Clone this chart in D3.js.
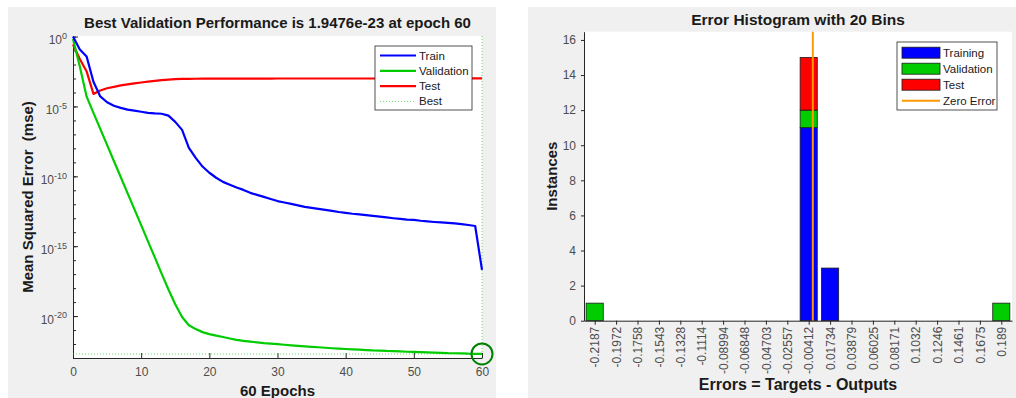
<!DOCTYPE html>
<html>
<head>
<meta charset="utf-8">
<script src="https://cdn.jsdelivr.net/npm/d3@7"></script>
<style>
  body { margin: 0; background: #fff; }
  text { font-family: "Liberation Sans", Arial, Helvetica, sans-serif; }
</style>
</head>
<body>
<div class="charts"></div>
<script>
// data

// left: performance per epoch (mse)
var epochs = d3.range(0, 61);
var trainMse = [1.0, 1.2e-1, 3.7e-2, 5.9e-4, 5.2e-5, 2.0e-5, 1.12e-5, 7.9e-6, 5.9e-6, 5.0e-6,
  4.2e-6, 3.5e-6, 3.2e-6, 3.0e-6, 2.2e-6, 7.9e-7, 2.1e-7, 1.1e-8, 2.1e-9, 5.0e-10,
  1.8e-10, 7.9e-11, 4.0e-11, 2.5e-11, 1.6e-11, 1.07e-11, 6.6e-12, 4.7e-12, 3.4e-12, 2.4e-12,
  1.7e-12, 1.35e-12, 1.07e-12, 8.3e-13, 6.5e-13, 5.5e-13, 4.7e-13, 4.0e-13, 3.4e-13, 2.8e-13,
  2.4e-13, 2.1e-13, 1.9e-13, 1.66e-13, 1.48e-13, 1.29e-13, 1.15e-13, 1.0e-13, 8.9e-14, 8.1e-14,
  7.6e-14, 6.6e-14, 5.9e-14, 5.4e-14, 5.0e-14, 4.6e-14, 4.3e-14, 3.8e-14, 3.3e-14, 2.8e-14,
  2.0e-17];
var validMse = [0.68, 7.1e-3, 5.0e-5, 3.5e-6, 2.5e-7, 1.8e-8, 1.26e-9, 8.9e-11, 6.3e-12, 4.5e-13,
  3.2e-14, 2.2e-15, 1.6e-16, 1.1e-17, 7.9e-19, 7.1e-20, 8.5e-21, 2.2e-21, 1.17e-21, 7.1e-22,
  5.1e-22, 4.0e-22, 3.2e-22, 2.5e-22, 2.0e-22, 1.66e-22, 1.48e-22, 1.32e-22, 1.17e-22, 1.07e-22,
  9.8e-23, 8.9e-23, 8.1e-23, 7.4e-23, 6.8e-23, 6.3e-23, 5.9e-23, 5.4e-23, 5.0e-23, 4.7e-23,
  4.4e-23, 4.2e-23, 4.0e-23, 3.7e-23, 3.5e-23, 3.4e-23, 3.2e-23, 3.1e-23, 2.95e-23, 2.8e-23,
  2.7e-23, 2.6e-23, 2.5e-23, 2.4e-23, 2.35e-23, 2.24e-23, 2.19e-23, 2.14e-23, 2.04e-23, 2.0e-23,
  1.9476e-23];
var testMse = [0.27, 2.5e-2, 3.2e-3, 7.9e-5, 1.4e-4, 2.0e-4, 2.5e-4, 3.2e-4, 3.8e-4, 4.5e-4,
  5.2e-4, 6.0e-4, 6.8e-4, 7.6e-4, 8.3e-4, 8.9e-4, 9.3e-4, 9.5e-4, 9.6e-4, 9.7e-4,
  9.75e-4, 9.8e-4, 9.8e-4, 9.85e-4, 9.85e-4, 9.9e-4, 9.9e-4, 9.9e-4, 9.95e-4, 9.95e-4,
  1.0e-3, 1.0e-3, 1.0e-3, 1.0e-3, 1.0e-3, 1.0e-3, 1.0e-3, 1.0e-3, 1.0e-3, 1.0e-3,
  1.0e-3, 1.0e-3, 1.0e-3, 1.0e-3, 1.0e-3, 1.0e-3, 1.01e-3, 1.01e-3, 1.01e-3, 1.01e-3,
  1.01e-3, 1.01e-3, 1.01e-3, 1.01e-3, 1.01e-3, 1.02e-3, 1.02e-3, 1.02e-3, 1.02e-3, 1.02e-3,
  1.02e-3];
var bestEpoch = 60;
var bestPerf = 1.9476e-23;
var perfTicks = [1e0, 1e-5, 1e-10, 1e-15, 1e-20];
var perfExp = ['0', '-5', '-10', '-15', '-20'];
var epochTicks = [0, 10, 20, 30, 40, 50, 60];

// right: error histogram, 20 bins
var binLabels = ['-0.2187', '-0.1972', '-0.1758', '-0.1543', '-0.1328', '-0.1114', '-0.08994',
  '-0.06848', '-0.04703', '-0.02557', '-0.00412', '0.01734', '0.03879', '0.06025', '0.08171',
  '0.1032', '0.1246', '0.1461', '0.1675', '0.189'];
var histTrain = [0, 0, 0, 0, 0, 0, 0, 0, 0, 0, 11, 3, 0, 0, 0, 0, 0, 0, 0, 0];
var histValid = [1, 0, 0, 0, 0, 0, 0, 0, 0, 0, 1, 0, 0, 0, 0, 0, 0, 0, 0, 1];
var histTest  = [0, 0, 0, 0, 0, 0, 0, 0, 0, 0, 3, 0, 0, 0, 0, 0, 0, 0, 0, 0];
var countTicks = [0, 2, 4, 6, 8, 10, 12, 14, 16];
var zeroError = 0;

var cBlue = '#0000ff', cGreen = '#00cc00', cRed = '#ff0000', cOrange = '#ff9900';
var axisColor = '#262626';
var labelColor = '#1a1a1a';

var svg = d3.select('.charts').append('svg')
  .attr('width', 1016)
  .attr('height', 398);

// panel backgrounds
svg.append('rect').attr('x', 8).attr('y', 7).attr('width', 488).attr('height', 391).attr('fill', '#f0f0f0');
svg.append('rect').attr('x', 528).attr('y', 7).attr('width', 488).attr('height', 391).attr('fill', '#f0f0f0');

function styleAxis(g) {
  g.select('.domain').attr('stroke', axisColor);
  g.selectAll('.tick line').attr('stroke', axisColor);
  g.selectAll('.tick text').attr('fill', '#4d4d4d').attr('font-size', 12)
    .attr('font-family', '"Liberation Sans", Arial, sans-serif');
}

// ---------- performance plot ----------
var L = { left: 73, right: 482, top: 36, bottom: 358 };
var xP = d3.scaleLinear().domain([0, 60]).range([L.left, L.right]);
var yP = d3.scaleLog().domain([1e-23, 1.1]).range([L.bottom, L.top]);

var perf = svg.append('g');
perf.append('rect').attr('x', L.left).attr('y', L.top)
  .attr('width', L.right - L.left).attr('height', L.bottom - L.top).attr('fill', '#fff');

// minor decade ticks
var decades = d3.range(0, 24).map(function(d) { return Math.pow(10, -d); });
perf.append('g').attr('transform', 'translate(' + L.left + ',0)')
  .call(d3.axisLeft(yP).tickValues(decades).tickSizeInner(-3).tickSizeOuter(0).tickFormat(''))
  .call(function(g) { g.select('.domain').remove(); g.selectAll('line').attr('stroke', axisColor); });

var yAxisP = perf.append('g').attr('transform', 'translate(' + L.left + ',0)')
  .call(d3.axisLeft(yP).tickValues(perfTicks).tickSizeInner(-5).tickSizeOuter(0).tickPadding(6).tickFormat(''))
  .call(styleAxis);
yAxisP.selectAll('.tick text').each(function(d, i) {
  var t = d3.select(this).attr('dy', '0.6em');
  t.append('tspan').text('10');
  t.append('tspan').attr('dy', '-0.6em').attr('font-size', 9).text(perfExp[i]);
});

perf.append('g').attr('transform', 'translate(0,' + L.bottom + ')')
  .call(d3.axisBottom(xP).tickValues(epochTicks).tickSizeInner(-5).tickSizeOuter(0).tickPadding(9))
  .call(styleAxis);

// best markers
perf.append('line').attr('x1', L.left).attr('x2', xP(bestEpoch))
  .attr('y1', yP(bestPerf)).attr('y2', yP(bestPerf))
  .attr('stroke', cGreen).attr('stroke-opacity', 0.6).attr('stroke-width', 1).attr('stroke-dasharray', '1,2');
perf.append('line').attr('x1', xP(bestEpoch)).attr('x2', xP(bestEpoch))
  .attr('y1', L.top).attr('y2', L.bottom)
  .attr('stroke', cGreen).attr('stroke-opacity', 0.6).attr('stroke-width', 1).attr('stroke-dasharray', '1,2');

var line = d3.line()
  .x(function(d, i) { return xP(epochs[i]); })
  .y(function(d) { return yP(d); });

[[testMse, cRed], [validMse, cGreen], [trainMse, cBlue]].forEach(function(s) {
  perf.append('path').datum(s[0])
    .attr('d', line)
    .attr('fill', 'none')
    .attr('stroke', s[1])
    .attr('stroke-width', 2.2)
    .attr('stroke-linejoin', 'round');
});

perf.append('circle').attr('cx', xP(bestEpoch)).attr('cy', yP(bestPerf)).attr('r', 10.5)
  .attr('fill', 'none').attr('stroke', '#008000').attr('stroke-width', 2);

perf.append('text').attr('x', (L.left + L.right) / 2).attr('y', 28)
  .attr('text-anchor', 'middle').attr('font-weight', 'bold').attr('font-size', 15).attr('fill', labelColor)
  .text('Best Validation Performance is 1.9476e-23 at epoch 60');
perf.append('text').attr('x', (L.left + L.right) / 2).attr('y', 396)
  .attr('text-anchor', 'middle').attr('font-weight', 'bold').attr('font-size', 15).attr('fill', labelColor)
  .text('60 Epochs');
perf.append('text')
  .attr('transform', 'translate(33,' + ((L.top + L.bottom) / 2) + ') rotate(-90)')
  .attr('text-anchor', 'middle').attr('font-weight', 'bold').attr('font-size', 15).attr('fill', labelColor)
  .style('white-space', 'pre')
  .text('Mean Squared Error  (mse)');

// legend
var legP = perf.append('g').attr('transform', 'translate(375,46)');
legP.append('rect').attr('width', 97).attr('height', 64).attr('fill', '#fff').attr('stroke', '#262626').attr('stroke-width', 0.8);
var legItems = [['Train', cBlue, false], ['Validation', cGreen, false], ['Test', cRed, false], ['Best', cGreen, true]];
legItems.forEach(function(d, i) {
  var y = 9.5 + i * 15.3;
  legP.append('line').attr('x1', 5).attr('x2', 41).attr('y1', y).attr('y2', y)
    .attr('stroke', d[1])
    .attr('stroke-width', d[2] ? 1 : 2.2)
    .attr('stroke-opacity', d[2] ? 0.6 : 1)
    .attr('stroke-dasharray', d[2] ? '1,2' : null);
  legP.append('text').attr('x', 44).attr('y', y + 4).attr('font-size', 11.5).attr('fill', labelColor).text(d[0]);
});

// ---------- error histogram ----------
var R = { left: 584, right: 1012, top: 31.7, bottom: 320.7 };
var xH = d3.scaleLinear().domain([-0.5, 19.5]).range([R.left, R.right]);
var yH = d3.scaleLinear().domain([0, 16.47]).range([R.bottom, R.top]);
var binW = xH(1) - xH(0);

var hist = svg.append('g');
hist.append('rect').attr('x', R.left).attr('y', R.top)
  .attr('width', R.right - R.left).attr('height', R.bottom - R.top).attr('fill', '#fff');

var stack = d3.stack().keys(['train', 'valid', 'test'])(binLabels.map(function(b, i) {
  return { train: histTrain[i], valid: histValid[i], test: histTest[i] };
}));
var stackColors = [cBlue, cGreen, cRed];

stack.forEach(function(layer, k) {
  hist.append('g').selectAll('rect')
    .data(layer.map(function(d, i) { return { i: i, y0: d[0], y1: d[1] }; })
      .filter(function(d) { return d.y1 > d.y0; }))
    .join('rect')
    .attr('x', function(d) { return xH(d.i) - binW * 0.4; })
    .attr('width', binW * 0.8)
    .attr('y', function(d) { return yH(d.y1); })
    .attr('height', function(d) { return yH(d.y0) - yH(d.y1); })
    .attr('fill', stackColors[k])
    .attr('stroke', '#1a1a1a')
    .attr('stroke-width', 0.8);
});

// zero error line, placed on the bin scale
var binCenters = binLabels.map(Number);
var binStep = (binCenters[19] - binCenters[0]) / 19;
var zeroIdx = (zeroError - binCenters[0]) / binStep;
hist.append('line').attr('x1', xH(zeroIdx)).attr('x2', xH(zeroIdx))
  .attr('y1', R.top).attr('y2', R.bottom)
  .attr('stroke', cOrange).attr('stroke-width', 2);

hist.append('g').attr('transform', 'translate(' + R.left + ',0)')
  .call(d3.axisLeft(yH).tickValues(countTicks).tickSizeInner(3).tickSizeOuter(0).tickPadding(5))
  .call(styleAxis);

var xAxisH = hist.append('g').attr('transform', 'translate(0,' + R.bottom + ')')
  .call(d3.axisBottom(xH).tickValues(d3.range(0, 20)).tickSizeInner(4).tickSizeOuter(0)
    .tickFormat(function(i) { return binLabels[i]; }))
  .call(styleAxis);
xAxisH.selectAll('.tick text')
  .attr('transform', 'rotate(-90)')
  .attr('text-anchor', 'end')
  .attr('x', -6).attr('y', 0).attr('dy', '0.35em');

hist.append('text').attr('x', (R.left + R.right) / 2).attr('y', 24.5)
  .attr('text-anchor', 'middle').attr('font-weight', 'bold').attr('font-size', 15.5).attr('fill', labelColor)
  .text('Error Histogram with 20 Bins');
hist.append('text').attr('x', (R.left + R.right) / 2).attr('y', 390)
  .attr('text-anchor', 'middle').attr('font-weight', 'bold').attr('font-size', 16).attr('fill', labelColor)
  .text('Errors = Targets - Outputs');
hist.append('text')
  .attr('transform', 'translate(557,' + ((R.top + R.bottom) / 2) + ') rotate(-90)')
  .attr('text-anchor', 'middle').attr('font-weight', 'bold').attr('font-size', 15).attr('fill', labelColor)
  .text('Instances');

var legH = hist.append('g').attr('transform', 'translate(897,42)');
legH.append('rect').attr('width', 100).attr('height', 68).attr('fill', '#fff').attr('stroke', '#262626').attr('stroke-width', 0.8);
var histLeg = [['Training', cBlue], ['Validation', cGreen], ['Test', cRed], ['Zero Error', cOrange]];
histLeg.forEach(function(d, i) {
  var y = 10.7 + i * 16;
  if (i < 3) {
    legH.append('rect').attr('x', 5).attr('y', y - 5.5).attr('width', 38).attr('height', 11)
      .attr('fill', d[1]).attr('stroke', '#1a1a1a').attr('stroke-width', 0.8);
  } else {
    legH.append('line').attr('x1', 5).attr('x2', 43).attr('y1', y).attr('y2', y)
      .attr('stroke', d[1]).attr('stroke-width', 2);
  }
  legH.append('text').attr('x', 46).attr('y', y + 4).attr('font-size', 11.5).attr('fill', labelColor).text(d[0]);
});
</script>
</body>
</html>
